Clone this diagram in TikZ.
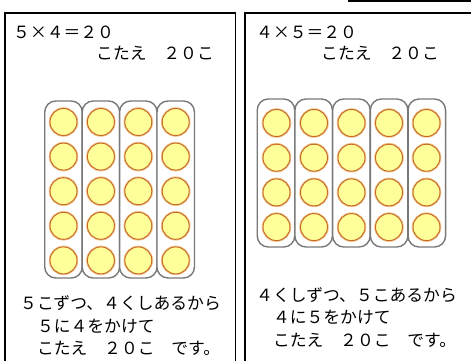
\documentclass[tikz,border=0pt]{standalone}
\usepackage{fontspec}
\newfontfamily\jp{Noto Sans CJK JP}
\definecolor{capgray}{RGB}{120,120,120}
\definecolor{dotfill}{RGB}{255,255,153}
\definecolor{dotedge}{RGB}{200,110,40}
\definecolor{dothalo}{RGB}{240,200,150}
\tikzset{
  jtext/.style={anchor=west,inner sep=0pt,font=\jp\fontsize{16.8pt}{18pt}\selectfont},
  frame/.style={draw=black,line width=1.5pt},
  capsule/.style={draw=capgray,line width=1.4pt,rounded corners=11pt,fill=white,minimum width=37.5pt,inner sep=0pt},
  dot/.style={circle,fill=dotfill,draw=dotedge,line width=1pt,minimum size=27pt,inner sep=0pt,
    preaction={draw=dothalo,line width=2.6pt}}
}
\newcommand{\tms}{\makebox[16.8pt]{×}}
\begin{document}
\begin{tikzpicture}[x=1pt,y=-1pt]
\useasboundingbox (0,0) rectangle (471,361);
\clip (0,0) rectangle (471,361);
% frames
\coordinate (la) at (5,380);
\coordinate (lb) at (5,13);
\coordinate (lc) at (235.5,13);
\coordinate (ld) at (235.5,380);
\draw[frame] (la) -- (lb) -- (lc) -- (ld);
\coordinate (ra) at (245,380);
\coordinate (rb) at (245,13);
\coordinate (rc) at (480,13);
\draw[frame] (ra) -- (rb) -- (rc);
\coordinate (ta) at (348,1);
\coordinate (tb) at (480,1);
\draw[frame] (ta) -- (tb);
% titles
\node[jtext] (lt1) at (13,32) {５\tms４＝２０};
\node[jtext] (lt2) at (96,53) {こたえ　２０こ};
\node[jtext] (rt1) at (256,32) {４\tms５＝２０};
\node[jtext] (rt2) at (321,53) {こたえ　２０こ};
% left grid: 4 columns x 5 rows
\foreach \c in {0,...,3}{
  \node[capsule,minimum height=177pt] (lcap\c) at (63.5+37.4*\c,189.5) {};
  \foreach \r in {0,...,4}{
    \node[dot] (ld\c\r) at (63.5+37.4*\c,122+34.6*\r) {};
  }
}
% right grid: 5 columns x 4 rows
\foreach \c in {0,...,4}{
  \node[capsule,minimum height=148pt] (rcap\c) at (276+37.7*\c,173) {};
  \foreach \r in {0,...,3}{
    \node[dot] (rd\c\r) at (276.5+37.5*\c,123+34.7*\r) {};
  }
}
% bottom texts
\node[jtext] (lb1) at (20,303) {５こずつ、４くしあるから};
\node[jtext] (lb2) at (20,326) {　５に４をかけて};
\node[jtext] (lb3) at (20,348) {　こたえ　２０こ　です。};
\node[jtext] (rb1) at (256,295) {４くしずつ、５こあるから};
\node[jtext] (rb2) at (256,317) {　４に５をかけて};
\node[jtext] (rb3) at (256,340) {　こたえ　２０こ　です。};
\end{tikzpicture}
\end{document}
